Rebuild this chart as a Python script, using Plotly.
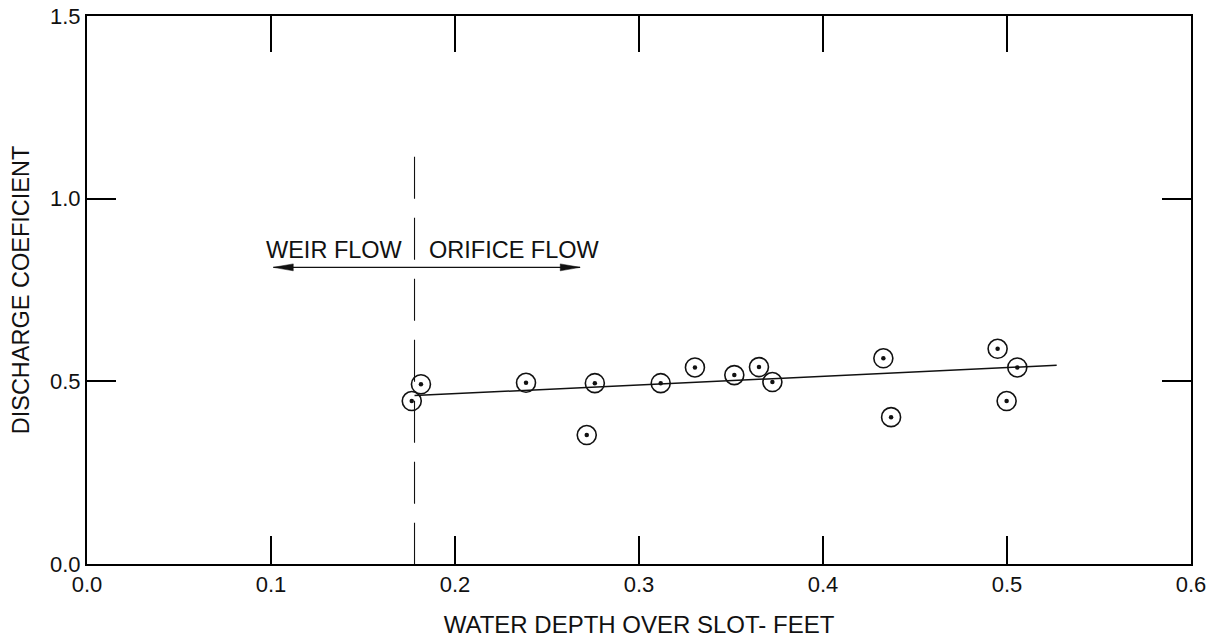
import plotly.graph_objects as go

# Measured discharge coefficients against water depth over the slot (ft)
depth_ft = [0.1765, 0.1815, 0.2386, 0.2716, 0.2760, 0.3118, 0.3304, 0.3518,
            0.3652, 0.3725, 0.4328, 0.4370, 0.4949, 0.4998, 0.5056]
discharge_coef = [0.446, 0.492, 0.496, 0.353, 0.495, 0.495, 0.538, 0.517,
                  0.539, 0.498, 0.563, 0.402, 0.589, 0.446, 0.538]

# Fitted trend line end points
fit_depth = [0.178, 0.527]
fit_coef = [0.461, 0.544]

# Weir / orifice flow boundary
boundary_depth = 0.178
boundary_top = 1.115

# Double-headed regime arrow
arrow_y = 0.812
arrow_x = [0.1013, 0.268]

x_ticks = [0.0, 0.1, 0.2, 0.3, 0.4, 0.5, 0.6]
x_tick_text = ["0.0", "0.1", "0.2", "0.3", "0.4", "0.5", "0.6"]
y_ticks = [0.0, 0.5, 1.0, 1.5]
y_tick_text = ["0.0", "0.5", "1.0", "1.5"]

FONT = "Liberation Sans, Arial, sans-serif"
INK = "#111111"

fig = go.Figure()

# trend line
fig.add_trace(go.Scatter(x=fit_depth, y=fit_coef, mode="lines",
                         line=dict(color=INK, width=1.5), hoverinfo="skip"))

# open circles with a centre dot
fig.add_trace(go.Scatter(x=depth_ft, y=discharge_coef, mode="markers",
                         marker=dict(symbol="circle-open", size=19, color=INK,
                                     line=dict(color=INK, width=1.6))))
fig.add_trace(go.Scatter(x=depth_ft, y=discharge_coef, mode="markers",
                         marker=dict(symbol="circle", size=4.5, color=INK),
                         hoverinfo="skip"))

# arrow shaft
fig.add_trace(go.Scatter(x=arrow_x, y=[arrow_y, arrow_y], mode="lines",
                         line=dict(color=INK, width=1.3), hoverinfo="skip"))

# arrow heads: long narrow filled triangles at both ends of the shaft
head_len = 0.0108   # along x (data units)
head_half = 0.0095  # half width along y (data units)
for tip, direction in ((arrow_x[0], 1), (arrow_x[1], -1)):
    base = tip + direction * head_len
    fig.add_trace(go.Scatter(
        x=[tip, base, base, tip],
        y=[arrow_y, arrow_y + head_half, arrow_y - head_half, arrow_y],
        mode="lines", fill="toself", fillcolor=INK,
        line=dict(color=INK, width=0.5), hoverinfo="skip"))

# dashed regime boundary, drawn from the top down
fig.add_shape(type="line", xref="x", yref="y",
              x0=boundary_depth, x1=boundary_depth, y0=boundary_top, y1=0,
              line=dict(color=INK, width=1.1, dash="42px,19px"))

fig.add_annotation(x=boundary_depth, y=arrow_y, xref="x", yref="y",
                   text="WEIR FLOW", showarrow=False, xanchor="right",
                   yanchor="bottom", xshift=-10, yshift=2,
                   font=dict(family=FONT, size=23.5, color=INK))
fig.add_annotation(x=boundary_depth, y=arrow_y, xref="x", yref="y",
                   text="ORIFICE FLOW", showarrow=False, xanchor="left",
                   yanchor="bottom", xshift=12, yshift=2,
                   font=dict(family=FONT, size=23.5, color=INK))

fig.update_layout(
    width=1213, height=638,
    margin=dict(l=87, r=22, t=16, b=74),
    paper_bgcolor="white", plot_bgcolor="white",
    showlegend=False,
    font=dict(family=FONT, size=22, color=INK),
    xaxis=dict(range=[0, 0.6], tickvals=x_ticks, ticktext=x_tick_text,
               ticks="inside", ticklen=28, tickwidth=2, tickcolor="black",
               showline=True, linewidth=2, linecolor="black", mirror=True,
               showgrid=False, zeroline=False, automargin=False,
               ticklabelstandoff=0,
               tickfont=dict(family=FONT, size=22, color=INK),
               title=dict(text="WATER DEPTH OVER SLOT- FEET", standoff=20,
                          font=dict(family=FONT, size=24, color=INK))),
    xaxis2=dict(range=[0, 0.6], overlaying="x", side="top", matches="x",
                tickvals=x_ticks, ticks="inside", ticklen=36, tickwidth=2,
                tickcolor="black", showticklabels=False, showgrid=False,
                zeroline=False, showline=False, automargin=False),
    yaxis=dict(range=[0, 1.5], tickvals=y_ticks, ticktext=y_tick_text,
               ticks="inside", ticklen=29, tickwidth=2, tickcolor="black",
               showline=True, linewidth=2, linecolor="black", mirror="ticks",
               showgrid=False, zeroline=False, automargin=False,
               tickfont=dict(family=FONT, size=22, color=INK),
               title=dict(text="DISCHARGE COEFICIENT", standoff=14,
                          font=dict(family=FONT, size=23.5, color=INK))),
)

# invisible trace so the top axis is rendered
fig.add_trace(go.Scatter(x=[0], y=[0], xaxis="x2", mode="markers",
                         marker=dict(opacity=0), hoverinfo="skip"))

fig.write_html("out.html")
